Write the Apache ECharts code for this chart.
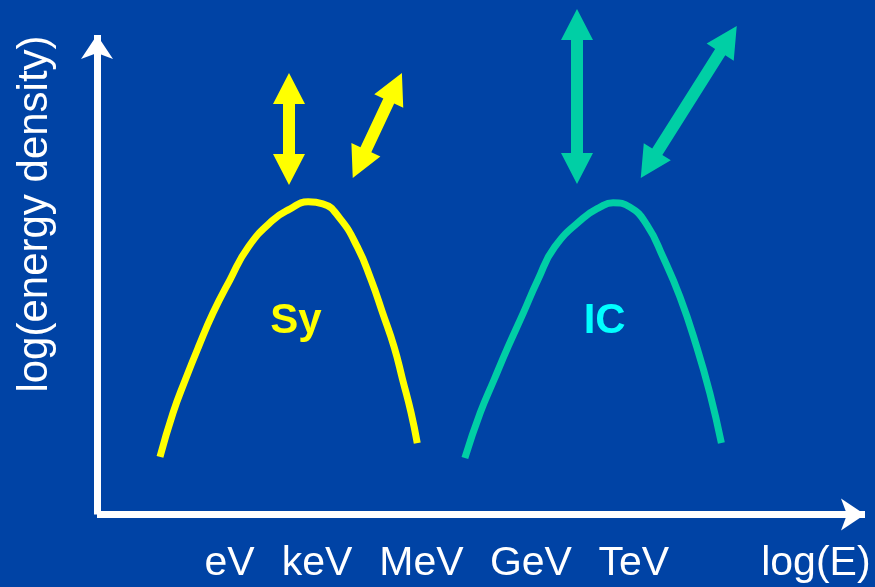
<!DOCTYPE html>
<html>
<head>
<meta charset="utf-8">
<title>Synchrotron and inverse Compton humps</title>
<script src="https://cdn.jsdelivr.net/npm/echarts@6/dist/echarts.min.js"></script>
<style>
  html, body { margin: 0; padding: 0; background: #0043a5; }
  #chart { width: 875px; height: 587px; }
</style>
</head>
<body>
<div id="chart"></div>
<script>
// Energy axis runs 0..100 (arbitrary log units), density axis 0..100.
const energyTicks = [17.25, 28.65, 42.25, 56.5, 69.9, 93.6];
const energyTickLabels = ['eV', 'keV', 'MeV', 'GeV', 'TeV', 'log(E)'];

// Synchrotron hump: [log E, log density]
const syCurve = [
  [8.2, 12.0], [9.9, 21.2], [11.5, 28.1], [13.2, 34.9], [15.1, 42.0],
  [17.3, 48.9], [19.7, 55.8], [22.9, 61.4], [25.1, 63.7], [27.5, 65.2],
  [29.4, 64.8], [31.6, 61.8], [33.9, 55.8], [35.7, 48.9], [37.2, 42.0],
  [38.7, 34.9], [39.8, 28.1], [40.9, 21.2], [41.7, 14.9]
];

// Inverse Compton hump: [log E, log density]
const icCurve = [
  [47.9, 11.8], [49.9, 21.2], [51.7, 28.1], [53.5, 34.9], [55.5, 42.0],
  [57.4, 48.9], [59.6, 55.8], [63.3, 61.8], [65.5, 64.1], [67.2, 65.0],
  [69.4, 64.1], [71.6, 60.4], [73.7, 53.7], [75.9, 45.4], [78.1, 34.9],
  [79.8, 25.3], [81.3, 14.9]
];

// Double-headed arrows: [x1, y1, x2, y2] tip to tip
const syArrows = [
  [25.0, 92.1, 25.0, 68.7],
  [39.7, 92.1, 33.3, 70.2]
];
const icArrows = [
  [62.5, 105.4, 62.5, 68.9],
  [83.3, 101.9, 70.8, 70.2]
];

// Hump captions
const humpLabelPos = [[25.9, 40.2], [66.1, 40.2]];
const humpLabelText = ['Sy', 'IC'];

const BG = '#0043a5';
const YELLOW = '#ffff00';
const TEAL = '#00cfa5';
const CYAN = '#00ffff';
const FONT = '"Liberation Sans", Arial, Helvetica, sans-serif';
const humpLabelColor = [YELLOW, CYAN];

// Polygon for a double-headed arrow between two pixel points
function doubleArrow(p1, p2, headLen, headWidth, shaftWidth) {
  const dx = p2[0] - p1[0], dy = p2[1] - p1[1];
  const len = Math.sqrt(dx * dx + dy * dy);
  const ux = dx / len, uy = dy / len;
  const nx = -uy, ny = ux;
  const b1 = [p1[0] + ux * headLen, p1[1] + uy * headLen];
  const b2 = [p2[0] - ux * headLen, p2[1] - uy * headLen];
  const off = (b, w, s) => [b[0] + nx * w / 2 * s, b[1] + ny * w / 2 * s];
  return [
    p1,
    off(b1, headWidth, 1), off(b1, shaftWidth, 1),
    off(b2, shaftWidth, 1), off(b2, headWidth, 1),
    p2,
    off(b2, headWidth, -1), off(b2, shaftWidth, -1),
    off(b1, shaftWidth, -1), off(b1, headWidth, -1)
  ];
}

function arrowSeries(data, color) {
  return {
    type: 'custom',
    data: data,
    encode: { x: [0, 2], y: [1, 3] },
    clip: false,
    silent: true,
    renderItem: function (params, api) {
      const p1 = api.coord([api.value(0), api.value(1)]);
      const p2 = api.coord([api.value(2), api.value(3)]);
      return {
        type: 'polygon',
        shape: { points: doubleArrow(p1, p2, 31, 32, 12) },
        style: { fill: color }
      };
    }
  };
}

function humpSeries(data, color) {
  return {
    type: 'line',
    data: data,
    smooth: 0.5,
    symbol: 'none',
    silent: true,
    lineStyle: { color: color, width: 7, cap: 'butt', join: 'round' }
  };
}

const chart = echarts.init(document.getElementById('chart'), null, { renderer: 'canvas' });

chart.setOption({
  backgroundColor: BG,
  animation: false,
  grid: { left: 97, right: 10, top: 35, bottom: 72.5, containLabel: false, outerBoundsMode: 'none' },
  xAxis: {
    type: 'value',
    min: 0,
    max: 100,
    splitLine: { show: false },
    axisTick: { show: false },
    axisLine: {
      show: true,
      symbol: ['none', 'arrow'],
      symbolSize: [24, 24],
      lineStyle: { color: '#ffffff', width: 7, cap: 'butt' }
    },
    axisLabel: {
      show: true,
      customValues: energyTicks,
      formatter: function (v) {
        const i = energyTicks.indexOf(v);
        return i >= 0 ? energyTickLabels[i] : '';
      },
      color: '#ffffff',
      fontSize: 41,
      fontFamily: FONT,
      margin: 49,
      verticalAlign: 'middle',
      showMinLabel: true,
      showMaxLabel: true
    }
  },
  yAxis: {
    type: 'value',
    min: 0,
    max: 100,
    splitLine: { show: false },
    axisTick: { show: false },
    axisLabel: { show: false },
    axisLine: {
      show: true,
      symbol: ['none', 'arrow'],
      symbolSize: [24, 24],
      lineStyle: { color: '#ffffff', width: 7, cap: 'butt' }
    }
  },
  graphic: [{
    type: 'text',
    x: 35.5,
    y: 214,
    rotation: Math.PI / 2,
    silent: true,
    style: {
      text: 'log(energy density)',
      fill: '#ffffff',
      font: '42px ' + FONT,
      align: 'center',
      verticalAlign: 'middle'
    }
  }],
  series: [
    humpSeries(syCurve, YELLOW),
    humpSeries(icCurve, TEAL),
    arrowSeries(syArrows, YELLOW),
    arrowSeries(icArrows, TEAL),
    {
      type: 'custom',
      data: humpLabelPos,
      clip: false,
      silent: true,
      renderItem: function (params, api) {
        const p = api.coord([api.value(0), api.value(1)]);
        return {
          type: 'text',
          x: p[0],
          y: p[1],
          style: {
            text: humpLabelText[params.dataIndex],
            fill: humpLabelColor[params.dataIndex],
            font: 'bold 42px ' + FONT,
            align: 'center',
            verticalAlign: 'middle'
          }
        };
      }
    }
  ]
});
</script>
</body>
</html>
